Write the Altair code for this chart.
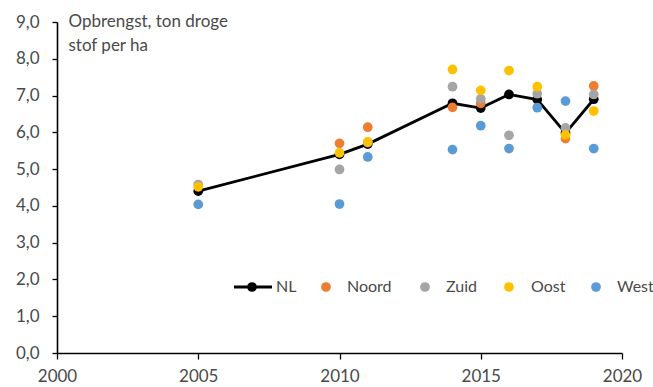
import altair as alt
import pandas as pd

# Yield of dry matter (ton per ha) per region and year
years = [2005, 2010, 2011, 2014, 2015, 2016, 2017, 2018, 2019]
nl    = [4.40, 5.40, 5.68, 6.79, 6.66, 7.03, 6.89, 5.98, 6.90]
noord = [None, 5.70, 6.14, 6.68, 6.79, None, None, 5.83, 7.26]
zuid  = [4.58, 4.99, 5.72, 7.24, 6.91, 5.92, 7.05, 6.12, 7.03]
oost  = [4.52, 5.44, 5.74, 7.71, 7.14, 7.68, 7.24, 5.93, 6.58]
west  = [4.04, 4.05, 5.33, 5.53, 6.18, 5.56, 6.67, 6.85, 5.56]

series = ["NL", "Noord", "Zuid", "Oost", "West"]
colors = ["#000000", "#ED7D31", "#A5A5A5", "#FFC000", "#5B9BD5"]
x_ticks = [2000, 2005, 2010, 2015, 2020]
y_ticks = [0, 1, 2, 3, 4, 5, 6, 7, 8, 9]

rows = []
for k, (name, vals) in enumerate(zip(series, [nl, noord, zuid, oost, west])):
    for yr, v in zip(years, vals):
        if v is not None:
            rows.append({"jaar": yr, "opbrengst": v, "regio": name, "volgorde": k})
df = pd.DataFrame(rows)

FONT = "Lato"
TXT = "#4a4a4a"
W, H = 565, 331

x_enc = alt.X("jaar:Q",
              scale=alt.Scale(domain=[2000, 2020], nice=False, zero=False),
              axis=alt.Axis(values=x_ticks, format="d", title=None, grid=False,
                            labelFlush=False, labelOverlap=False,
                            domainColor="#000000", domainWidth=1.3,
                            tickColor="#000000", tickSize=6, tickWidth=1.3,
                            labelFont=FONT, labelFontSize=17, labelColor=TXT,
                            labelPadding=9))
y_enc = alt.Y("opbrengst:Q",
              scale=alt.Scale(domain=[0, 9], nice=False),
              axis=alt.Axis(values=y_ticks, grid=False, labelFlush=False,
                            labelOverlap=False,
                            labelExpr="replace(format(datum.value, '.1f'), '.', ',')",
                            domainColor="#000000", domainWidth=1.6,
                            tickColor="#000000", tickSize=5, tickWidth=1.3,
                            labelFont=FONT, labelFontSize=17, labelColor=TXT,
                            labelPadding=13,
                            title=["Opbrengst, ton droge", "stof per ha"],
                            titleAngle=0, titleAlign="left", titleBaseline="top",
                            titleX=11, titleY=-9, titleFont=FONT,
                            titleFontSize=17, titleFontWeight="normal",
                            titleColor=TXT, titleLineHeight=24))

line = alt.Chart(df[df["regio"] == "NL"]).mark_line(
    color="#000000", strokeWidth=2.8
).encode(x=x_enc, y=y_enc)

points = alt.Chart(df).mark_point(filled=True, opacity=1, size=95).encode(
    x=x_enc, y=y_enc,
    color=alt.Color("regio:N", scale=alt.Scale(domain=series, range=colors),
                    legend=None),
    order=alt.Order("volgorde:Q"),
)

# Legend row drawn inside the plot area (pixel offsets from the plot origin)
leg_y = 265
leg_dot = [195, 269, 368, 452, 539]
leg_lab = [219, 290, 389, 474, 560]
one = pd.DataFrame({"k": [0]})
legend_layers = [
    alt.Chart(one).mark_rule(color="#000000", strokeWidth=2.8).encode(
        x=alt.value(leg_dot[0] - 18), x2=alt.value(leg_dot[0] + 20),
        y=alt.value(leg_y))
]
for name, col, dx, lx in zip(series, colors, leg_dot, leg_lab):
    legend_layers.append(
        alt.Chart(one).mark_point(filled=True, opacity=1, size=95, color=col)
        .encode(x=alt.value(dx), y=alt.value(leg_y)))
    legend_layers.append(
        alt.Chart(one).mark_text(align="left", baseline="middle", font=FONT,
                                 fontSize=16, color=TXT, text=name)
        .encode(x=alt.value(lx), y=alt.value(leg_y)))

chart = alt.layer(line, points, *legend_layers).properties(
    width=W, height=H,
    autosize=alt.AutoSizeParams(type="none"),
    padding={"left": 57, "top": 22, "right": 31, "bottom": 34},
    background="#FFFFFF",
).configure_view(stroke=None)

chart.save("out.html", embed_options={"renderer": "svg", "actions": False})
